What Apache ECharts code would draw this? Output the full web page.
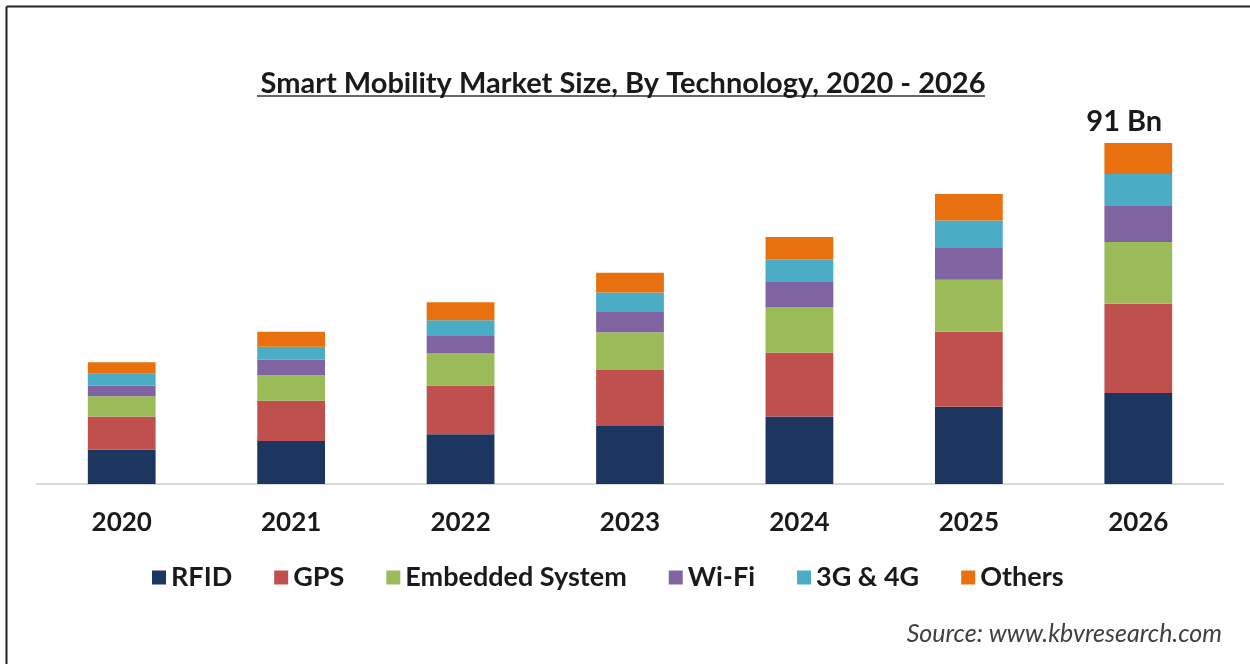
<!DOCTYPE html>
<html>
<head>
<meta charset="utf-8">
<script src="https://cdn.jsdelivr.net/npm/echarts@6/dist/echarts.min.js"></script>
<style>
html,body{margin:0;padding:0;background:#fff;}
#chart{width:1250px;height:664px;}
</style>
</head>
<body>
<div id="chart"></div>
<script>
const categories = ['2020', '2021', '2022', '2023', '2024', '2025', '2026'];
const rfid     = [9.2, 11.5, 13.3, 15.5, 18.0, 20.6, 24.3];
const gps      = [8.8, 10.7, 13.0, 14.9, 17.1, 20.0, 23.8];
const embedded = [5.4, 6.8, 8.5, 10.1, 12.0, 13.9, 16.5];
const wifi     = [2.9, 4.2, 4.9, 5.4, 6.8, 8.5, 9.6];
const g34      = [3.1, 3.4, 4.0, 5.2, 6.1, 7.3, 8.5];
const others   = [3.1, 4.0, 4.8, 5.3, 5.9, 7.1, 8.3];
const seriesNames = ['RFID', 'GPS', 'Embedded System', 'Wi-Fi', '3G & 4G', 'Others'];
const seriesData = [rfid, gps, embedded, wifi, g34, others];
const colors = ['#1d3660', '#c0504d', '#9bbb59', '#8064a2', '#4bacc6', '#e8700e'];
const labelIndex = 6; // only the 2026 total is labelled
const titleText = 'Smart Mobility Market Size, By Technology, 2020 - 2026';
const sourceText = 'Source: www.kbvresearch.com';

const FONT = 'Lato';
const chart = echarts.init(document.getElementById('chart'), null, {renderer: 'canvas'});

const totals = categories.map((c, i) => seriesData.reduce((s, arr) => s + arr[i], 0));

const series = seriesNames.map((name, k) => ({
  name: name,
  type: 'bar',
  stack: 'total',
  barWidth: '40%',
  itemStyle: {color: colors[k]},
  data: seriesData[k],
  label: k === seriesNames.length - 1 ? {
    show: true,
    position: 'top',
    distance: 7,
    offset: [-14, 0],
    fontFamily: FONT,
    fontWeight: 'bold',
    fontSize: 29,
    color: '#1a1a1a',
    formatter: p => p.dataIndex === labelIndex ? Math.round(totals[p.dataIndex]) + ' Bn' : ''
  } : {show: false}
}));

chart.setOption({
  animation: false,
  backgroundColor: '#fff',
  title: {
    text: titleText,
    left: 618,
    textAlign: 'center',
    top: 64,
    textStyle: {fontFamily: FONT, fontWeight: 'bold', fontSize: 29, color: '#1a1a1a'}
  },
  legend: {
    data: seriesNames,
    left: 147,
    top: 559,
    itemWidth: 14,
    itemHeight: 14,
    itemGap: 42,
    icon: 'rect',
    textStyle: {fontFamily: FONT, fontWeight: 'bold', fontSize: 27, color: '#1a1a1a'}
  },
  grid: {left: 37, right: 27, top: 109.3, bottom: 180, containLabel: false},
  xAxis: {
    type: 'category',
    data: categories,
    axisLine: {lineStyle: {color: '#d9d9d9', width: 2}},
    axisTick: {show: false},
    axisLabel: {fontFamily: FONT, fontWeight: 'bold', fontSize: 26, color: '#1a1a1a', margin: 26}
  },
  yAxis: {
    type: 'value',
    min: 0, max: 100, interval: 20,
    show: false,
    splitLine: {show: false}
  },
  graphic: [
    {type: 'line', shape: {x1: 6.5, y1: 6.5, x2: 1250, y2: 6.5}, style: {stroke: '#222', lineWidth: 2}},
    {type: 'line', shape: {x1: 6.5, y1: 6.5, x2: 6.5, y2: 664}, style: {stroke: '#222', lineWidth: 2}},
    {type: 'line', shape: {x1: 257, y1: 96, x2: 985, y2: 96}, style: {stroke: '#333', lineWidth: 1.5}},
    {type: 'text', right: 28, top: 621, style: {text: sourceText, fontFamily: FONT, fontStyle: 'italic', fontSize: 25, fill: '#404040'}}
  ],
  series: series
});
</script>
</body>
</html>
